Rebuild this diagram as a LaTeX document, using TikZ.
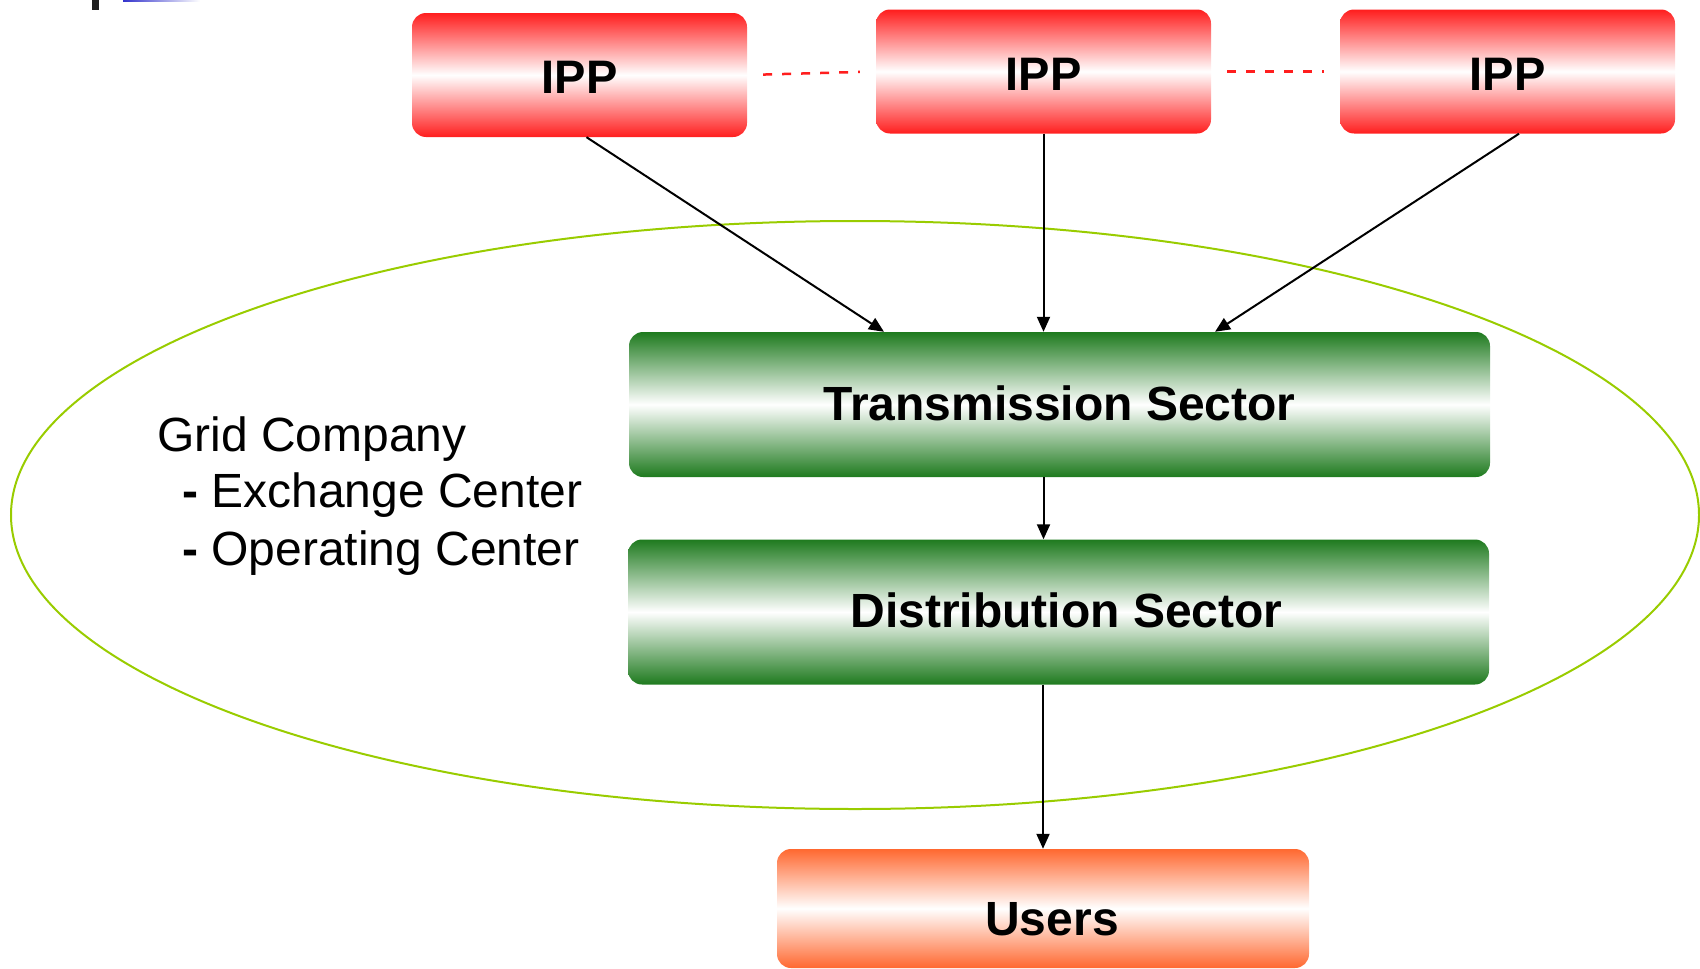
\documentclass[tikz,border=0pt]{standalone}
\usepackage{fontspec}
\setmainfont{Liberation Sans}
\usetikzlibrary{arrows.meta,shapes.geometric,calc}

\definecolor{ippred}{RGB}{255,30,30}
\definecolor{sectorgreen}{RGB}{30,122,30}
\definecolor{userorange}{RGB}{255,104,48}
\definecolor{gridlime}{RGB}{153,204,0}
\definecolor{accentblue}{RGB}{51,51,204}

% shift a label vertically inside its box without changing the box size
\newcommand{\nudge}[2]{\raisebox{#1}[\height][\depth]{#2}}

\tikzset{
  box/.style={rounded corners=14pt, inner sep=0pt,
    font=\fontsize{48}{56}\selectfont\bfseries},
  ippbox/.style={box, top color=ippred, bottom color=ippred, middle color=white,
    minimum width=335pt, minimum height=124pt, font=\fontsize{47}{56}\selectfont\bfseries},
  sectorbox/.style={box, top color=sectorgreen, bottom color=sectorgreen, middle color=white,
    minimum width=861pt, minimum height=145pt},
  userbox/.style={box, top color=userorange, bottom color=userorange, middle color=white,
    minimum width=532pt, minimum height=119pt},
  flow/.style={draw=black, line width=2pt, -{Triangle[length=15pt,width=13pt]}},
  peer/.style={draw=ippred, line width=2.5pt, dash pattern=on 9pt off 10pt,
    shorten <=16pt, shorten >=16pt},
  gridtext/.style={inner sep=0pt, anchor=base west, font=\fontsize{48}{57}\selectfont},
}

\begin{document}
\begin{tikzpicture}[x=1pt,y=-1pt]
\useasboundingbox (0,0) rectangle (1700,969);

% slide template remnants at the top edge
\fill[black!88] (92,0) rectangle (99,10);
\shade[left color=accentblue, right color=white] (123,0) rectangle (200,1.5);

% grid company boundary
\node[ellipse, draw=gridlime, line width=2pt, inner sep=0pt,
      minimum width=1688pt, minimum height=588pt] (grid) at (855,515) {};

% power producers
\node[ippbox] (ipp1) at (579.5,75) {\nudge{-2pt}{IPP}};
\node[ippbox] (ipp2) at (1043.5,71.5) {\nudge{-3pt}{IPP}};
\node[ippbox] (ipp3) at (1507.5,71.5) {\nudge{-3pt}{IPP}};

% sectors and users
\node[sectorbox] (trans) at (1059.5,404.5) {\nudge{1.5pt}{Transmission Sector}};
\node[sectorbox] (dist) at (1058.5,612) {\hspace*{16pt}\nudge{2pt}{Distribution Sector}};
\node[userbox] (users) at (1043,908.5) {\hspace*{18pt}\nudge{-11pt}{Users}};

% grid company description
\node[gridtext] (gc) at (157,451) {Grid Company};
\node[gridtext] (ec) at (182,507.5) {{\bfseries -} Exchange Center};
\node[gridtext] (oc) at (182,565) {{\bfseries -} Operating Center};

% links between producers
\draw[peer] (ipp1.east) -- (ipp2.west);
\draw[peer] (ipp2.east) -- (ipp3.west);

% power flow
\draw[flow] ($(ipp1.south)+(7,0)$) -- ($(trans.north)+(-175.5,0)$);
\draw[flow] (ipp2.south) -- (ipp2.south |- trans.north);
\draw[flow] ($(ipp3.south)+(11.5,0)$) -- ($(trans.north)+(155.5,0)$);
\draw[flow] (trans.south -| ipp2.south) -- (dist.north -| ipp2.south);
\draw[flow] (dist.south -| users.north) -- (users.north);
\end{tikzpicture}
\end{document}
